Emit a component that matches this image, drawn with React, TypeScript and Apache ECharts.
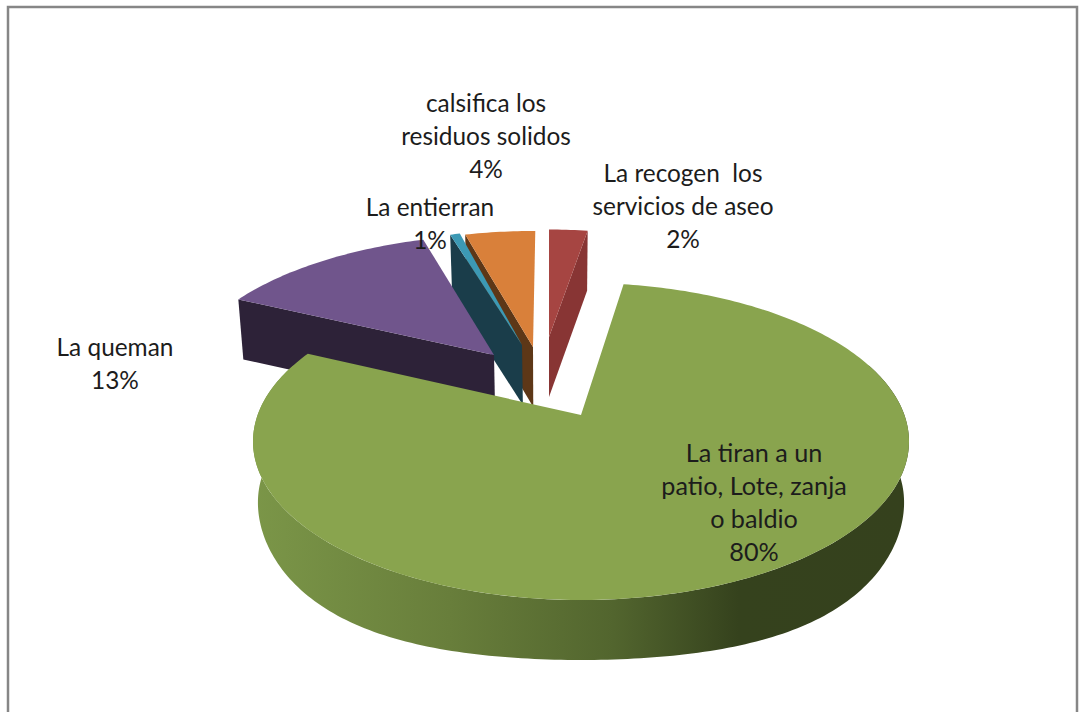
import React, { useEffect, useRef } from "react";
import * as echarts from "echarts";

// Data
const categories = [
  "La recogen  los\nservicios de aseo",
  "La tiran a un\npatio, Lote, zanja\no baldio",
  "La queman",
  "La entierran",
  "calsifica los\nresiduos solidos",
];
const values = [2.45, 79.55, 13.1, 0.6, 4.3];

// Styles
const topColors = ["#a64542", "#89a44e", "#70558c", "#3c99b4", "#d9803a"];
const wallColors = ["#883534", "", "#2d2238", "#1a3d4a", "#5d3717"];
const arcGradient = [
  { offset: 0, color: "#7b9648" },
  { offset: 0.3, color: "#687e3b" },
  { offset: 0.55, color: "#52652e" },
  { offset: 0.74, color: "#35421d" },
  { offset: 1, color: "#35411d" },
];

// Layout of the 3D pie (exploded slices in perspective)
const drawOrder = [0, 4, 3, 2, 1];
const tipX = [549, 581, 494, 522, 533];
const tipY = [337, 415, 355, 345, 347];
const depth = [0.7, 0, 0.31, 0.46, 0.43];
const vanishX = [549, 581, 572, 580, 550];
const wallSide = ["end", "arc", "start", "start", "start"];
const labelX = [683, 754, 115, 430, 486];
const labelY = [156, 435, 330, 190, 86];
const labelSize = [24.4, 25.2, 24.4, 24.4, 24.4];
const RX = 323.4;
const RY = 154.1;
const K = 0.167;
const WALL = 60;
const BULGE = 10;
const BOTTOM_SCALE = 0.985;

const startAngles = values.map((_, i) =>
  values.slice(0, i).reduce((s, v) => s + v, 0)
);
const total = values.reduce((s, v) => s + v, 0);

function projector(i: number) {
  const e = depth[i];
  const xc = vanishX[i];
  const ue = ((tipX[i] - xc) * (1 + K * e)) / RX;
  const f = (w: number) => w / (1 + K * w);
  return (deg: number | null, lower = false, bulge = 0): number[] => {
    const t = deg === null ? 0 : (deg * Math.PI) / 180;
    const u = (deg === null ? 0 : Math.sin(t)) + ue;
    const w = (deg === null ? 0 : Math.cos(t)) + e;
    let x = xc + (RX * u) / (1 + K * w);
    let y = tipY[i] - RY * (f(w) - f(e));
    if (lower) {
      x = xc + (x - xc) * BOTTOM_SCALE;
      y += WALL + bulge * Math.sin(2 * t) ** 2;
    }
    return [x, y];
  };
}

function renderItem(_params: any, api: any) {
  const i = api.value(1);
  const value = api.value(0);
  const a0 = (startAngles[i] / total) * 360;
  const a1 = a0 + (value / total) * 360;
  const p = projector(i);
  const arc: number[][] = [];
  const n = Math.max(4, Math.ceil(a1 - a0));
  for (let s = 0; s <= n; s++) arc.push(p(a0 + ((a1 - a0) * s) / n));
  const children: any[] = [];
  if (wallSide[i] === "arc") {
    const top: number[][] = [];
    const bot: number[][] = [];
    for (let d = 70; d <= 290; d += 1) {
      top.push(p(d));
      bot.push(p(d, true, BULGE));
    }
    children.push({
      type: "polygon",
      shape: { points: top.concat(bot.reverse()) },
      style: {
        fill: {
          type: "linear",
          x: 0,
          y: 0,
          x2: 1,
          y2: 0,
          colorStops: arcGradient,
        },
      },
    });
  } else {
    const edge = wallSide[i] === "start" ? a0 : a1;
    children.push({
      type: "polygon",
      shape: { points: [p(null), p(edge), p(edge, true), p(null, true)] },
      style: { fill: wallColors[i] },
    });
  }
  children.push({
    type: "polygon",
    shape: { points: [p(null), ...arc] },
    style: { fill: topColors[i] },
  });
  return { type: "group", children };
}

export default function App() {
  const ref = useRef<HTMLDivElement>(null);
  useEffect(() => {
    const chart = echarts.init(ref.current!, null, { renderer: "svg" });
    chart.setOption({
      animation: false,
      backgroundColor: "#ffffff",
      graphic: [
        {
          type: "rect",
          shape: { x: 8, y: 7, width: 1069, height: 740 },
          style: { fill: "none", stroke: "#868686", lineWidth: 2.5 },
          z: 1,
        },
        ...categories.map((c, i) => ({
          type: "text",
          x: labelX[i],
          y: labelY[i],
          z: 20,
          style: {
            text: `${c}\n${Math.round(values[i])}%`,
            fontFamily: "Lato",
            fontSize: labelSize[i],
            lineHeight: 33,
            fill: "#1c1c1c",
            textAlign: "center",
            textVerticalAlign: "top",
          },
        })),
      ],
      series: [
        {
          type: "custom",
          coordinateSystem: "none",
          renderItem,
          silent: true,
          data: drawOrder.map((i) => [values[i], i]),
          z: 5,
        },
      ],
    });
    return () => chart.dispose();
  }, []);
  return (
    <div
      ref={ref}
      style={{ position: "fixed", left: 0, top: 0, width: 1079, height: 712 }}
    />
  );
}
